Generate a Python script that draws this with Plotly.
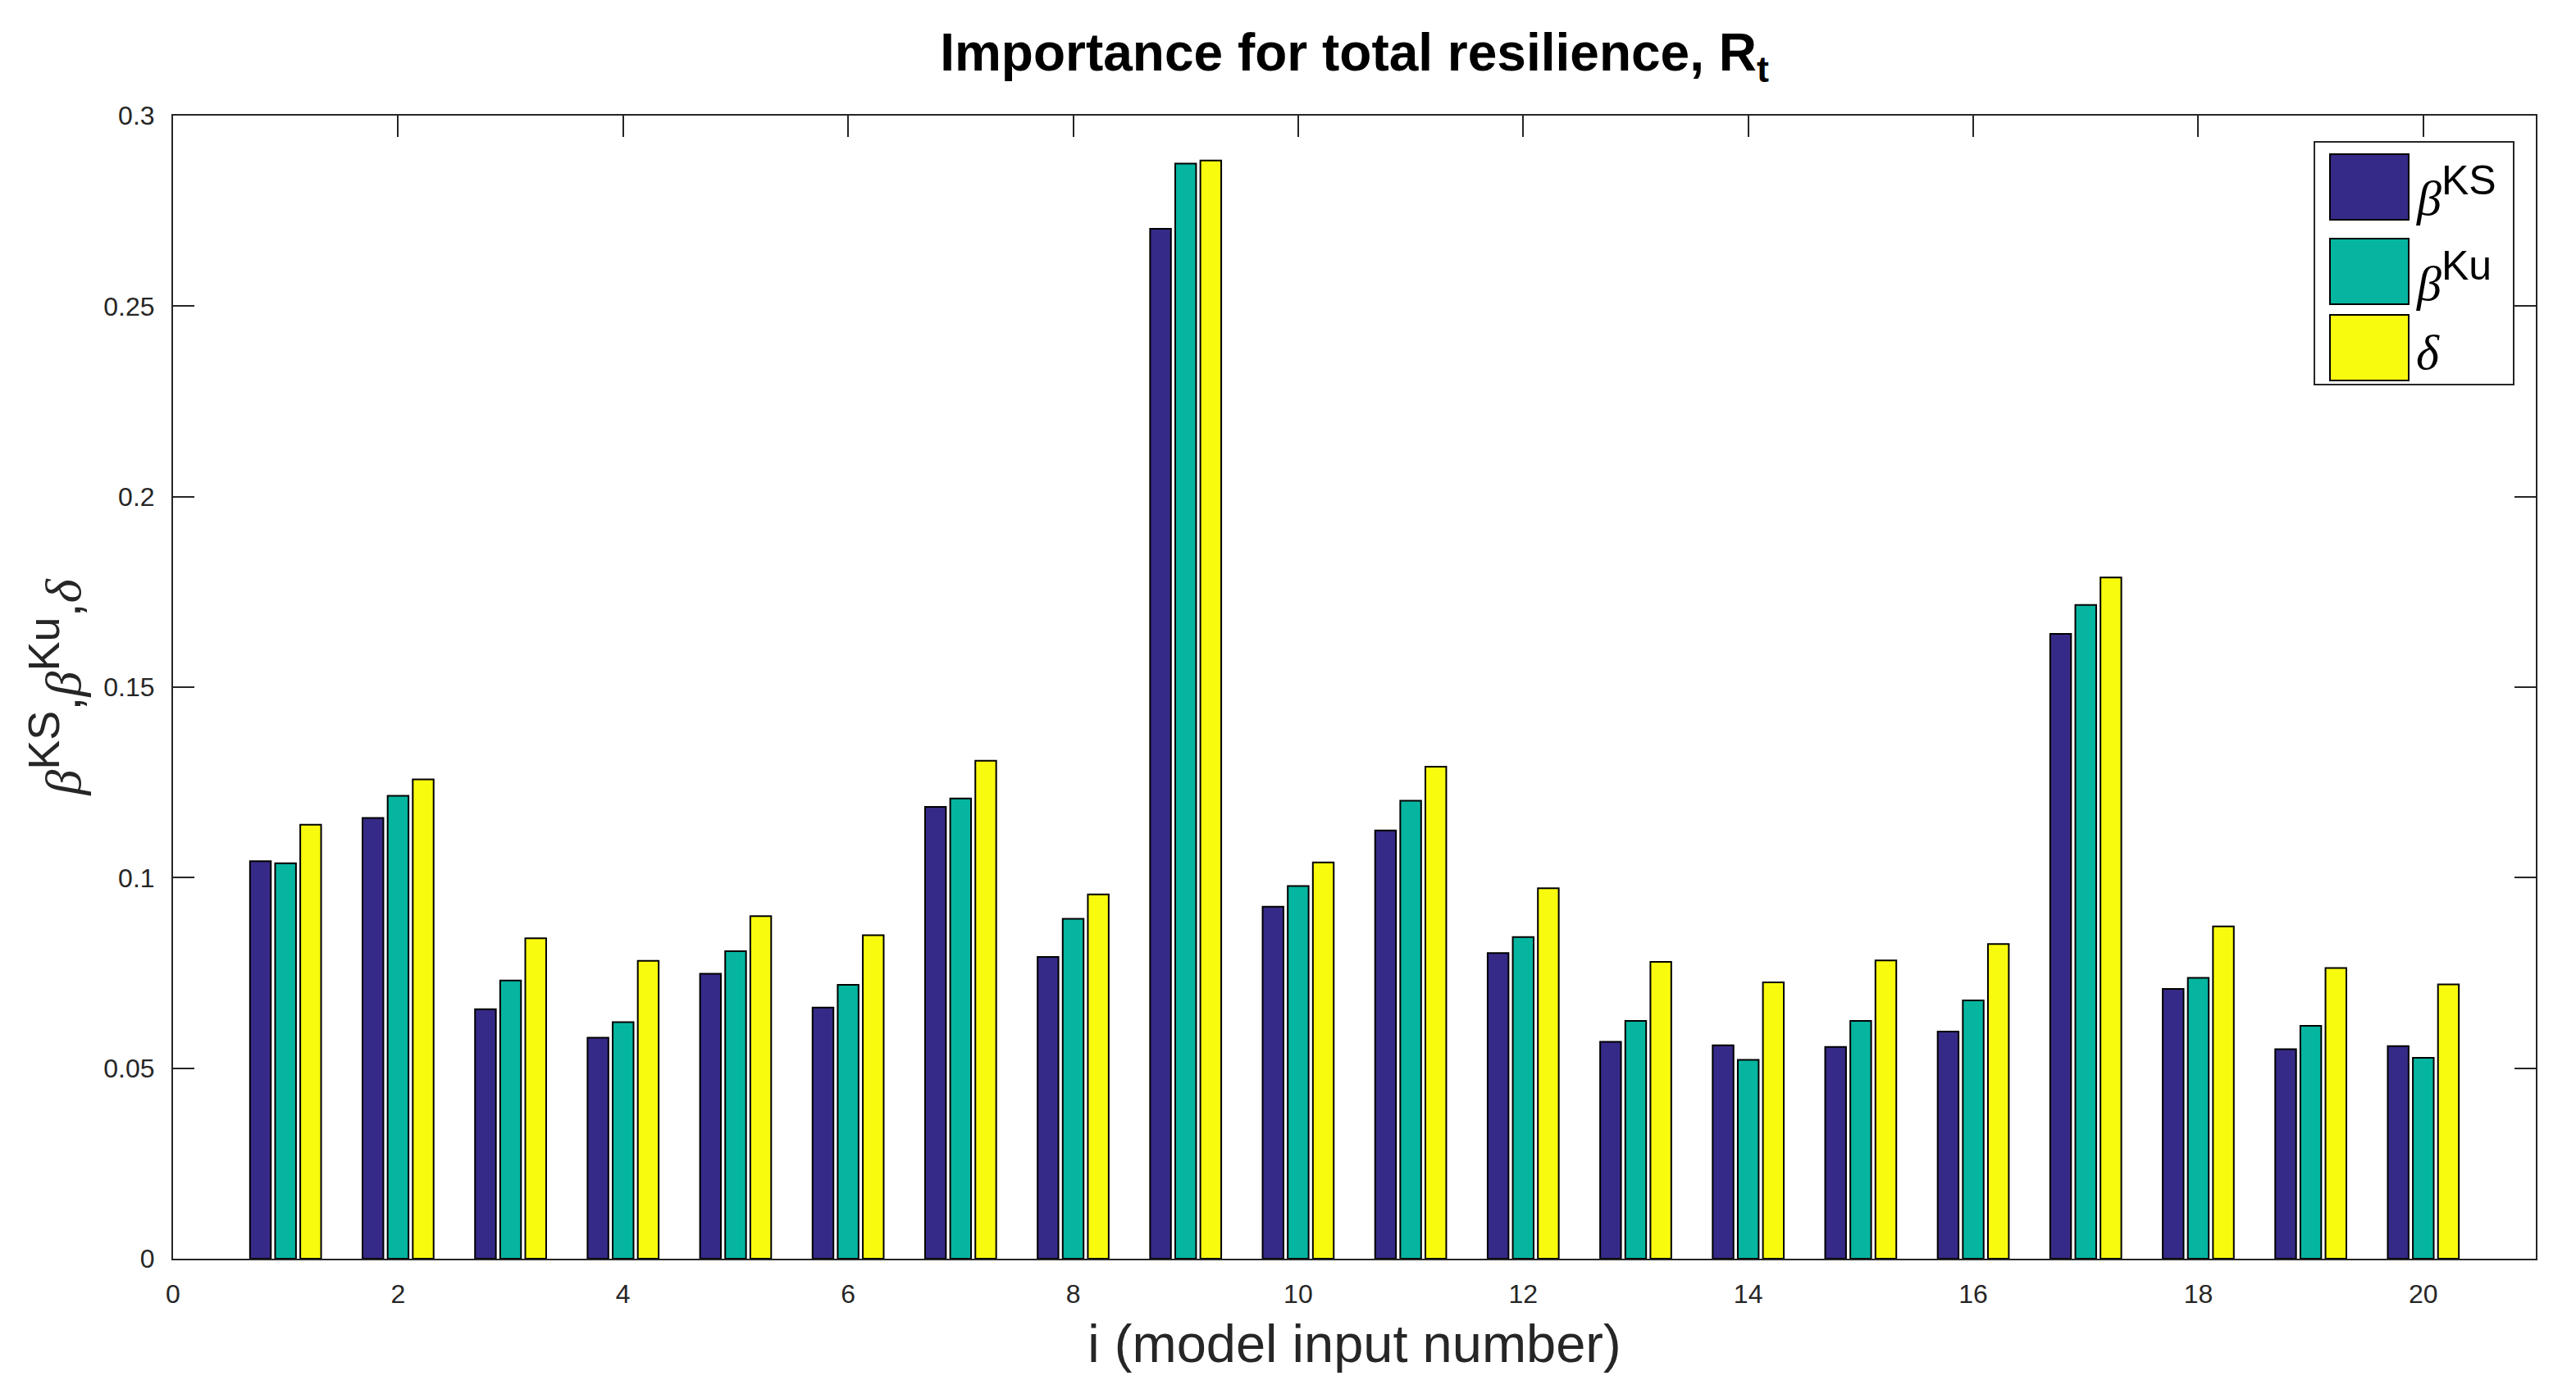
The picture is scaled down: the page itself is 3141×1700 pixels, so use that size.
import plotly.graph_objects as go

# ---- data ----
inputs = list(range(1, 21))
beta_ks = [0.1043, 0.1157, 0.0655, 0.0580, 0.0748, 0.0659, 0.1186, 0.0792, 0.2703, 0.0924,
           0.1124, 0.0802, 0.0569, 0.0560, 0.0556, 0.0596, 0.1640, 0.0708, 0.0550, 0.0558]
beta_ku = [0.1038, 0.1215, 0.0730, 0.0621, 0.0807, 0.0719, 0.1208, 0.0892, 0.2874, 0.0978,
           0.1202, 0.0844, 0.0624, 0.0522, 0.0624, 0.0678, 0.1716, 0.0737, 0.0611, 0.0527]
delta = [0.1139, 0.1258, 0.0841, 0.0782, 0.0899, 0.0849, 0.1307, 0.0956, 0.2882, 0.1040,
         0.1291, 0.0972, 0.0779, 0.0725, 0.0783, 0.0826, 0.1788, 0.0872, 0.0763, 0.0720]
series_names = ["βKS", "βKu", "δ"]
x_ticks = list(range(0, 21, 2))
y_ticks = [0, 0.05, 0.1, 0.15, 0.2, 0.25, 0.3]

colors = ["#352A87", "#05B5A0", "#F9FB0E"]

W, H = 3141, 1700
OFF = 8  # page body margin
L, R, T, B = 211 - OFF, 49 + OFF, 141 - OFF, 165 + OFF
FONT = "Liberation Sans"
SERIF = "Liberation Serif"
AX = "#262626"


def greek(ch):
    return f"<span style='font-family:{SERIF}'><i>{ch}</i></span>"


def sup(txt, size):
    return f"<sup><span style='font-size:{size}px'>{txt}</span></sup>"


legend_labels = [greek("β") + sup("KS", 50), greek("β") + sup("Ku", 50), greek("δ")]
ytitle = greek("β") + sup("KS", 54) + "," + greek("β") + sup("Ku", 54) + "," + greek("δ")


def px_x(px):
    return (px - OFF - L) / (W - L - R)


def px_y(py):
    return 1 - (py - OFF - T) / (H - T - B)


fig = go.Figure()
for name, vals, col in zip(series_names, [beta_ks, beta_ku, delta], colors):
    fig.add_trace(go.Bar(x=inputs, y=vals, name=name,
                         marker=dict(color=col, line=dict(color="black", width=2)),
                         showlegend=False))

fig.update_layout(
    width=W, height=H,
    margin=dict(l=L, r=R, t=T, b=B),
    paper_bgcolor="white", plot_bgcolor="white",
    barmode="group", bargap=0.33, bargroupgap=0.17,
    font=dict(family=FONT, color=AX, size=32),
    title=dict(text="<b>Importance for total resilience, R<sub>t</sub></b>",
               x=0.5, xref="paper", xanchor="center", y=1 - (64 - OFF) / H, yref="container",
               yanchor="middle", font=dict(size=64, color="black", family=FONT)),
)
fig.update_xaxes(range=[0, 21], tickvals=x_ticks, ticks="inside", ticklen=26, tickwidth=2, tickcolor=AX,
                 showline=True, linecolor=AX, linewidth=2, mirror="ticks", showgrid=False, zeroline=False,
                 layer="below traces",
                 tickfont=dict(size=32, color=AX), ticklabelstandoff=14,
                 title=dict(text="i (model input number)", font=dict(size=65, color=AX), standoff=20))
fig.update_yaxes(range=[0, 0.3], tickvals=y_ticks, ticks="inside", ticklen=26, tickwidth=2, tickcolor=AX,
                 showline=True, linecolor=AX, linewidth=2, mirror="ticks", showgrid=False, zeroline=False,
                 layer="below traces",
                 tickfont=dict(size=32, color=AX), ticklabelstandoff=14,
                 title=dict(text=ytitle, font=dict(size=62, color=AX), standoff=8))

# ---- legend box drawn in paper coordinates ----
fig.add_shape(type="rect", xref="paper", yref="paper", x0=px_x(2822), x1=px_x(3065), y0=px_y(469), y1=px_y(173),
              line=dict(color=AX, width=2), fillcolor="white", layer="above")
sw_tops = [188, 291, 384]
for lab, col, top in zip(legend_labels, colors, sw_tops):
    fig.add_shape(type="rect", xref="paper", yref="paper", x0=px_x(2841), x1=px_x(2937),
                  y0=px_y(top + 80), y1=px_y(top), line=dict(color="black", width=2), fillcolor=col,
                  layer="above")
    fig.add_annotation(xref="paper", yref="paper", x=px_x(2944), y=px_y(top + 46), text=lab, showarrow=False,
                       xanchor="left", yanchor="middle", font=dict(size=60, color="black", family=FONT))

fig.write_html("out.html")
